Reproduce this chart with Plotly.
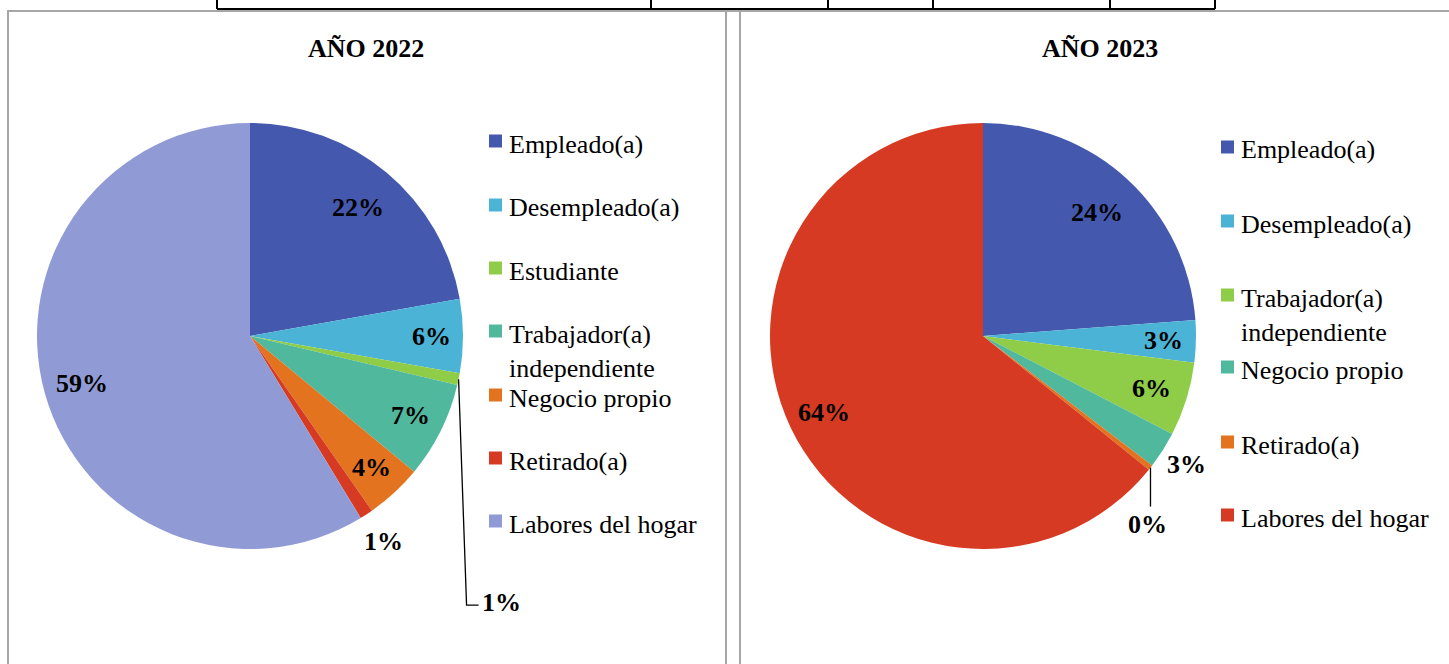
import math
import plotly.graph_objects as go

W, H = 1449, 664

# ---------------- data ----------------
labels_2022 = ["Empleado(a)", "Desempleado(a)", "Estudiante", "Trabajador(a)<br>independiente",
               "Negocio propio", "Retirado(a)", "Labores del hogar"]
values_2022 = [22.2, 5.6, 0.9, 7.3, 4.3, 1.0, 58.7]
colors_2022 = ["#4458AE", "#4BB3D6", "#8FCC48", "#4FB89D", "#E3731F", "#D63A22", "#909BD6"]

labels_2023 = ["Empleado(a)", "Desempleado(a)", "Trabajador(a)<br>independiente",
               "Negocio propio", "Retirado(a)", "Labores del hogar"]
values_2023 = [23.8, 3.2, 5.6, 2.8, 0.4, 64.2]
colors_2023 = ["#4458AE", "#4BB3D6", "#8FCC48", "#4FB89D", "#E3731F", "#D63A22"]

titles = ["AÑO 2022", "AÑO 2023"]

FONT = "Liberation Serif"


def px(x):
    return x / W


def py(y):
    return 1 - y / H


fig = go.Figure()

# pies: center (px) and radius
pies = [
    dict(vals=values_2022, labs=labels_2022, cols=colors_2022, cx=250, cy=336, r=213),
    dict(vals=values_2023, labs=labels_2023, cols=colors_2023, cx=983, cy=336, r=213),
]

for p in pies:
    fig.add_trace(go.Pie(
        labels=[l.replace("<br>", " ") for l in p["labs"]], values=p["vals"],
        marker=dict(colors=p["cols"], line=dict(width=0)),
        sort=False, direction="clockwise", rotation=0,
        textinfo="none", showlegend=False,
        domain=dict(x=[px(p["cx"] - p["r"]), px(p["cx"] + p["r"])],
                    y=[py(p["cy"] + p["r"]), py(p["cy"] - p["r"])]),
    ))

annotations = []
shapes = []

# label placement: radius factor per slice, optional leader (drop) for tiny slices
placements = [
    {0: 0.79, 1: 0.85, 3: 0.84, 4: 0.84, 5: 1.15, 6: 0.82},
    {0: 0.79, 1: 0.85, 2: 0.83, 3: 1.13, 5: 0.83},
]
leaders = [
    {2: dict(drop=226, dx=8, run=12)},
    {4: dict(drop=39, dx=0, run=0)},
]

for k, p in enumerate(pies):
    total = sum(p["vals"])
    cum = 0.0
    for i, v in enumerate(p["vals"]):
        mid = (cum + v / 2) / total * 2 * math.pi
        cum += v
        txt = f"{round(v / total * 100):d}%"
        if i in placements[k]:
            f = placements[k][i]
            x = p["cx"] + f * p["r"] * math.sin(mid)
            y = p["cy"] - f * p["r"] * math.cos(mid)
            annotations.append(dict(x=px(x), y=py(y), xref="paper", yref="paper", text=f"<b>{txt}</b>",
                                    showarrow=False, xanchor="center", yanchor="middle",
                                    font=dict(family=FONT, size=26, color="black")))
        elif i in leaders[k]:
            L = leaders[k][i]
            x0 = p["cx"] + p["r"] * math.sin(mid)
            y0 = p["cy"] - p["r"] * math.cos(mid)
            x1, y1 = x0 + L["dx"], y0 + L["drop"]
            if L["run"] > 0:
                x2 = x1 + L["run"]
                path = f"M {px(x0)},{py(y0)} L {px(x1)},{py(y1)} L {px(x2)},{py(y1)}"
                shapes.append(dict(type="path", xref="paper", yref="paper", path=path,
                                   line=dict(color="black", width=1.3)))
                annotations.append(dict(x=px(x2 + 1), y=py(y1 - 3), xref="paper", yref="paper",
                                        text=f"<b>{txt}</b>", showarrow=False, xanchor="left",
                                        yanchor="middle", font=dict(family=FONT, size=26, color="black")))
            else:
                shapes.append(dict(type="line", xref="paper", yref="paper", x0=px(x0), y0=py(y0),
                                   x1=px(x1), y1=py(y1), line=dict(color="black", width=1.3)))
                annotations.append(dict(x=px(x1 - 3), y=py(y1 + 18), xref="paper", yref="paper",
                                        text=f"<b>{txt}</b>", showarrow=False, xanchor="center",
                                        yanchor="middle", font=dict(family=FONT, size=26, color="black")))

# titles
for t, cx in zip(titles, [366, 1100]):
    annotations.append(dict(x=px(cx), y=py(48), xref="paper", yref="paper", text=f"<b>{t}</b>",
                            showarrow=False, xanchor="center", yanchor="middle",
                            font=dict(family=FONT, size=26, color="black")))

# custom legends
legend_layout = [
    dict(sq_x=489, txt_x=507, ys=[141, 205, 268, 331, 395, 458, 521]),
    dict(sq_x=1221, txt_x=1239, ys=[147, 221, 295, 367, 442, 515]),
]
for p, lg in zip(pies, legend_layout):
    for lab, col, yc in zip(p["labs"], p["cols"], lg["ys"]):
        shapes.append(dict(type="rect", xref="paper", yref="paper",
                           x0=px(lg["sq_x"]), x1=px(lg["sq_x"] + 13),
                           y0=py(yc + 6.5), y1=py(yc - 6.5), fillcolor=col, line=dict(width=0)))
        annotations.append(dict(x=px(lg["txt_x"]), y=py(yc - 13.5), xref="paper", yref="paper",
                                text=lab, showarrow=False, xanchor="left", yanchor="top", align="left",
                                font=dict(family=FONT, size=26, color="black")))

# frame boxes (gray) and table lines (black)
gray = "#A6A6A6"
shapes += [
    dict(type="line", xref="paper", yref="paper", x0=px(7), x1=px(1449), y0=py(11), y1=py(11),
         line=dict(color=gray, width=2)),
    dict(type="line", xref="paper", yref="paper", x0=px(8), x1=px(8), y0=py(11), y1=py(664),
         line=dict(color=gray, width=2)),
    dict(type="line", xref="paper", yref="paper", x0=px(726), x1=px(726), y0=py(11), y1=py(664),
         line=dict(color=gray, width=2)),
    dict(type="line", xref="paper", yref="paper", x0=px(740), x1=px(740), y0=py(11), y1=py(664),
         line=dict(color=gray, width=2)),
    dict(type="line", xref="paper", yref="paper", x0=px(217), x1=px(1215), y0=py(9), y1=py(9),
         line=dict(color="black", width=2)),
]
for xv in [217, 651, 828, 933, 1110, 1215]:
    shapes.append(dict(type="line", xref="paper", yref="paper", x0=px(xv), x1=px(xv), y0=py(0), y1=py(9),
                       line=dict(color="black", width=2)))

fig.update_layout(
    width=W, height=H, margin=dict(l=0, r=0, t=0, b=0),
    paper_bgcolor="white", plot_bgcolor="white",
    annotations=annotations, shapes=shapes, showlegend=False,
)

fig.write_html("out.html", config={"displayModeBar": False},
               post_script="document.body.style.margin='0';")
